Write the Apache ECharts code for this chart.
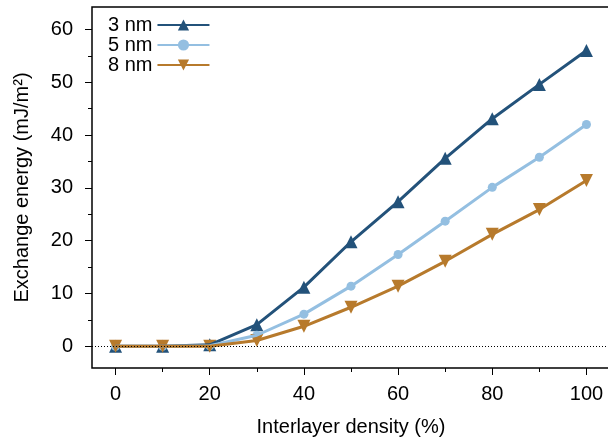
<!DOCTYPE html>
<html>
<head>
<meta charset="utf-8">
<script src="https://cdn.jsdelivr.net/npm/echarts@6/dist/echarts.min.js"></script>
<style>
  html, body { margin: 0; padding: 0; background: #fff; }
  #chart { width: 608px; height: 439px; }
</style>
</head>
<body>
<div id="chart"></div>
<script>
const density = [0, 10, 20, 30, 40, 50, 60, 70, 80, 90, 100];
const nm3 = [0, 0, 0.3, 4.1, 11.2, 19.8, 27.4, 35.6, 43.1, 49.6, 56.0];
const nm5 = [0, 0, 0.1, 2.1, 6.1, 11.4, 17.4, 23.7, 30.1, 35.8, 42.0];
const nm8 = [0, 0, 0, 1.1, 3.8, 7.4, 11.4, 16.1, 21.2, 25.9, 31.4];
const xMajor = [0, 20, 40, 60, 80, 100];
const xMinor = [10, 30, 50, 70, 90];
const yMajor = [0, 10, 20, 30, 40, 50, 60];
const yMinor = [5, 15, 25, 35, 45, 55];

const font = "Liberation Sans, Arial, sans-serif";
const pairs = (ys) => density.map((x, i) => [x, ys[i]]);

const chart = echarts.init(document.getElementById("chart"));

const xRange = { min: -5, max: 105 };
const yRange = { min: -4.1, max: 64.25 };

const styles = [
  { name: "3 nm", data: nm3, color: "#23527a", symbol: "triangle", size: 13, rotate: 0 },
  { name: "5 nm", data: nm5, color: "#94bfe1", symbol: "circle", size: 9, rotate: 0 },
  { name: "8 nm", data: nm8, color: "#b77a2c", symbol: "triangle", size: 13, rotate: 180 },
];

// markers sit under the lines, like in the original plot
const markerSeries = styles.map((s) => ({
  type: "scatter", data: pairs(s.data), z: 2,
  symbol: s.symbol, symbolSize: s.size, symbolRotate: s.rotate,
  itemStyle: { color: s.color, opacity: 1 },
  silent: true,
}));

const lineSeries = styles.map((s, i) => ({
  name: s.name, type: "line", data: pairs(s.data), z: 3,
  symbol: s.symbol, symbolSize: s.size, symbolRotate: s.rotate, showSymbol: false,
  itemStyle: { color: s.color }, lineStyle: { color: s.color, width: 3 },
  markLine: i === 0 ? {
    silent: true, symbol: "none", label: { show: false },
    lineStyle: { color: "#000", type: [1, 2], width: 1 },
    data: [{ yAxis: 0 }],
  } : undefined,
}));

chart.setOption({
  animation: false,
  grid: {
    left: 92, right: -2, top: 7, bottom: 71,
    containLabel: false, outerBoundsMode: "none",
    show: true, borderColor: "#000", borderWidth: 1.5,
  },
  legend: {
    left: 103, top: 10, orient: "vertical", align: "right",
    itemWidth: 52, itemHeight: 14, itemGap: 0,
    textStyle: { fontFamily: font, fontSize: 20, color: "#000", width: 54 },
    data: ["3 nm", "5 nm", "8 nm"],
  },
  xAxis: [
    {
      type: "value", ...xRange,
      name: "Interlayer density (%)", nameLocation: "middle", nameGap: 49,
      nameTextStyle: { fontFamily: font, fontSize: 20, color: "#000" },
      axisLine: { show: false, onZero: false },
      axisTick: { show: true, length: 7, customValues: xMajor, lineStyle: { color: "#000" } },
      axisLabel: { customValues: xMajor, margin: 16, fontFamily: font, fontSize: 20, color: "#000" },
      splitLine: { show: false },
    },
    {
      type: "value", ...xRange, position: "bottom",
      axisLine: { show: false, onZero: false },
      axisTick: { show: true, length: 4, customValues: xMinor, lineStyle: { color: "#000" } },
      axisLabel: { show: false },
      splitLine: { show: false },
    },
  ],
  yAxis: [
    {
      type: "value", ...yRange,
      name: "Exchange energy (mJ/m²)", nameLocation: "middle", nameGap: 60,
      nameTextStyle: { fontFamily: font, fontSize: 20, color: "#000" },
      axisLine: { show: false, onZero: false },
      axisTick: { show: true, length: 7, customValues: yMajor, lineStyle: { color: "#000" } },
      axisLabel: { customValues: yMajor, margin: 19, fontFamily: font, fontSize: 20, color: "#000" },
      splitLine: { show: false },
    },
    {
      type: "value", ...yRange, position: "left",
      axisLine: { show: false, onZero: false },
      axisTick: { show: true, length: 4, customValues: yMinor, lineStyle: { color: "#000" } },
      axisLabel: { show: false },
      splitLine: { show: false },
    },
  ],
  series: [...markerSeries, ...lineSeries],
});
</script>
</body>
</html>
